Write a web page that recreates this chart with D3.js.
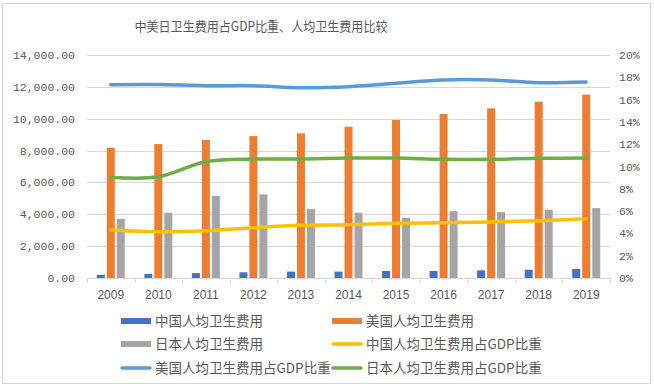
<!DOCTYPE html>
<html>
<head>
<meta charset="utf-8">
<script src="https://cdn.jsdelivr.net/npm/d3@7"></script>
<style>
  body { margin: 0; background: #fff; }
  text { fill: #595959; }
</style>
</head>
<body>
<svg width="654" height="388"></svg>
<script>
// data
var years = ["2009","2010","2011","2012","2013","2014","2015","2016","2017","2018","2019"];
var chinaPc = [190, 250, 310, 360, 400, 400, 440, 440, 480, 520, 565];
var usPc = [8180, 8410, 8660, 8910, 9080, 9500, 9920, 10300, 10650, 11070, 11510];
var japanPc = [3720, 4100, 5150, 5250, 4330, 4100, 3770, 4200, 4140, 4290, 4390];
var chinaGdp = [4.30, 4.15, 4.24, 4.51, 4.72, 4.78, 4.90, 4.96, 5.02, 5.14, 5.32];
var usGdp = [17.34, 17.35, 17.25, 17.25, 17.07, 17.16, 17.46, 17.76, 17.76, 17.52, 17.58];
var japanGdp = [9.03, 9.08, 10.43, 10.67, 10.67, 10.76, 10.76, 10.64, 10.64, 10.73, 10.76];
var leftTicks = [0, 2000, 4000, 6000, 8000, 10000, 12000, 14000];
var rightTicks = [0, 2, 4, 6, 8, 10, 12, 14, 16, 18, 20];

var svg = d3.select("svg");

var pLeft = 87, pRight = 610, pTop = 55, pBottom = 278;

// outer frame
svg.append("rect")
    .attr("x", 2.5).attr("y", 3.5)
    .attr("width", 648).attr("height", 380)
    .attr("fill", "none")
    .attr("stroke", "#D9D9D9");

svg.append("text")
    .attr("x", 261).attr("y", 31)
    .attr("text-anchor", "middle")
    .attr("textLength", 253)
    .attr("lengthAdjust", "spacingAndGlyphs")
    .style("font-family", "'Noto Sans CJK SC'")
    .style("font-size", "13px")
    .text("中美日卫生费用占GDP比重、人均卫生费用比较");

var x = d3.scaleBand().domain(years).range([pLeft, pRight]);
var y = d3.scaleLinear().domain([0, 14000]).range([pBottom, pTop]);
var y2 = d3.scaleLinear().domain([0, 20]).range([pBottom, pTop]);

// grid
svg.append("g").selectAll("line")
    .data(leftTicks.slice(1))
    .enter().append("line")
    .attr("x1", pLeft).attr("x2", pRight)
    .attr("y1", function(d) { return Math.round(y(d)) + 0.5; })
    .attr("y2", function(d) { return Math.round(y(d)) + 0.5; })
    .attr("stroke", "#D9D9D9");

// left axis labels
svg.append("g").selectAll("text")
    .data(leftTicks)
    .enter().append("text")
    .attr("x", 75)
    .attr("y", function(d) { return y(d) + 4; })
    .attr("text-anchor", "end")
    .style("font-family", "'Liberation Mono'")
    .style("font-size", "11.5px")
    .text(function(d) { return d3.format(",.2f")(d); });

// right axis labels
svg.append("g").selectAll("text")
    .data(rightTicks)
    .enter().append("text")
    .attr("x", 619)
    .attr("y", function(d) { return y2(d) + 4; })
    .style("font-family", "'Liberation Mono'")
    .style("font-size", "11.5px")
    .text(function(d) { return d + "%"; });

// x axis line + ticks
svg.append("line")
    .attr("x1", pLeft).attr("x2", pRight)
    .attr("y1", pBottom + 0.5).attr("y2", pBottom + 0.5)
    .attr("stroke", "#D9D9D9");
svg.append("g").selectAll("line")
    .data(years.concat(["end"]))
    .enter().append("line")
    .attr("x1", function(d, i) { return Math.round(pLeft + i * x.step()) + 0.5; })
    .attr("x2", function(d, i) { return Math.round(pLeft + i * x.step()) + 0.5; })
    .attr("y1", pBottom).attr("y2", pBottom + 5)
    .attr("stroke", "#D9D9D9");

svg.append("g").selectAll("text")
    .data(years)
    .enter().append("text")
    .attr("x", function(d) { return x(d) + x.bandwidth() / 2; })
    .attr("y", 299)
    .attr("text-anchor", "middle")
    .style("font-family", "'Liberation Sans'")
    .style("font-size", "12px")
    .text(function(d) { return d; });

// bars
var barW = 8, gap = 2;
var barSeries = [
  { vals: chinaPc, color: "#4472C4" },
  { vals: usPc, color: "#ED7D31" },
  { vals: japanPc, color: "#A5A5A5" }
];
barSeries.forEach(function(s, k) {
  svg.append("g").selectAll("rect")
      .data(years)
      .enter().append("rect")
      .attr("x", function(d) { return x(d) + x.bandwidth() / 2 - 1.5 * barW - gap + k * (barW + gap); })
      .attr("y", function(d, i) { return y(s.vals[i]); })
      .attr("width", barW)
      .attr("height", function(d, i) { return pBottom - y(s.vals[i]); })
      .attr("fill", s.color);
});

// lines
var lineSeries = [
  { vals: chinaGdp, color: "#FFC000" },
  { vals: usGdp, color: "#5B9BD5" },
  { vals: japanGdp, color: "#70AD47" }
];
var line = d3.line()
    .x(function(d, i) { return x(years[i]) + x.bandwidth() / 2; })
    .y(function(d) { return y2(d); })
    .curve(d3.curveCatmullRom);
lineSeries.forEach(function(s) {
  svg.append("path")
      .attr("d", line(s.vals))
      .attr("fill", "none")
      .attr("stroke", s.color)
      .attr("stroke-width", 3.5)
      .attr("stroke-linecap", "round")
      .attr("stroke-linejoin", "round");
});

// legend
var legend = [
  { name: "中国人均卫生费用", color: "#4472C4", type: "bar", col: 0, row: 0 },
  { name: "美国人均卫生费用", color: "#ED7D31", type: "bar", col: 1, row: 0 },
  { name: "日本人均卫生费用", color: "#A5A5A5", type: "bar", col: 0, row: 1 },
  { name: "中国人均卫生费用占GDP比重", color: "#FFC000", type: "line", col: 1, row: 1 },
  { name: "美国人均卫生费用占GDP比重", color: "#5B9BD5", type: "line", col: 0, row: 2 },
  { name: "日本人均卫生费用占GDP比重", color: "#70AD47", type: "line", col: 1, row: 2 }
];
var colX = [121, 332], rowY = [321, 344, 368];
var lg = svg.append("g").selectAll("g")
    .data(legend)
    .enter().append("g")
    .attr("transform", function(d) { return "translate(" + colX[d.col] + "," + rowY[d.row] + ")"; });
lg.filter(function(d) { return d.type == "bar"; })
    .append("rect")
    .attr("x", 0).attr("y", -3)
    .attr("width", 30).attr("height", 6)
    .attr("fill", function(d) { return d.color; });
lg.filter(function(d) { return d.type == "line"; })
    .append("line")
    .attr("x1", 1).attr("x2", 29)
    .attr("stroke", function(d) { return d.color; })
    .attr("stroke-width", 3.5)
    .attr("stroke-linecap", "round");
lg.append("text")
    .attr("x", 34)
    .attr("y", 5)
    .style("font-family", "'Noto Sans CJK SC'")
    .style("font-size", "13.5px")
    .text(function(d) { return d.name; });
</script>
</body>
</html>
